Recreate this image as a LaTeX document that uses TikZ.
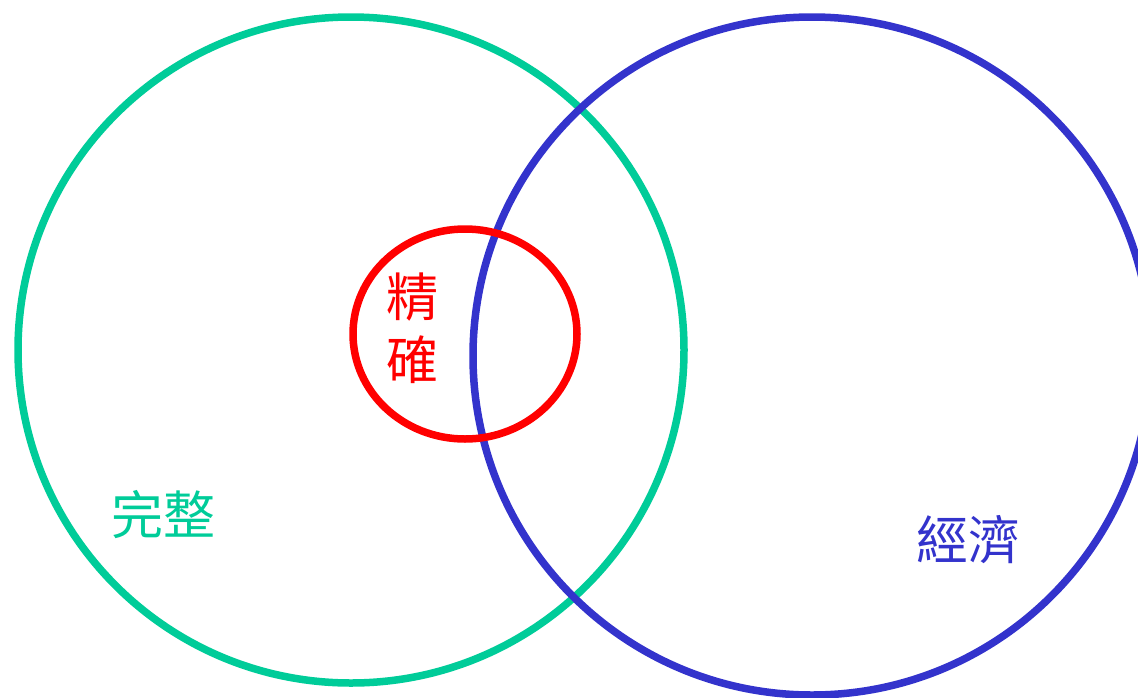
\documentclass[tikz,border=0pt]{standalone}
\usepackage{fontspec}
\newfontfamily\cjk{Noto Sans CJK TC}
\definecolor{jade}{HTML}{00CC99}
\definecolor{indigo}{HTML}{3333CC}
\definecolor{scarlet}{HTML}{FF0000}

\tikzset{
  ring/.style={line width=7.5pt},
  tag/.style={font=\cjk\fontsize{52}{63}\selectfont,inner sep=0pt}
}

\begin{document}
\begin{tikzpicture}[x=1pt,y=-1pt]
    % page frame, the blue ring runs off the right edge
    \clip (0,0) rectangle (1138,697);
    \useasboundingbox (0,0) rectangle (1138,697);
    % the three sets
    \draw[ring,jade] (351,350) circle[radius=333];
    \draw[ring,indigo] (812,356) circle[radius=339];
    \draw[ring,scarlet] (465,334) ellipse[x radius=112,y radius=105];
    % labels
    \node[tag,jade] (whole) at (163,515) {完整};
    \node[tag,indigo] (thrift) at (968,540) {經濟};
    \node[tag,scarlet] (exact1) at (412,297) {精};
    \node[tag,scarlet] (exact2) at (412,360) {確};
  \end{tikzpicture}
\end{document}
